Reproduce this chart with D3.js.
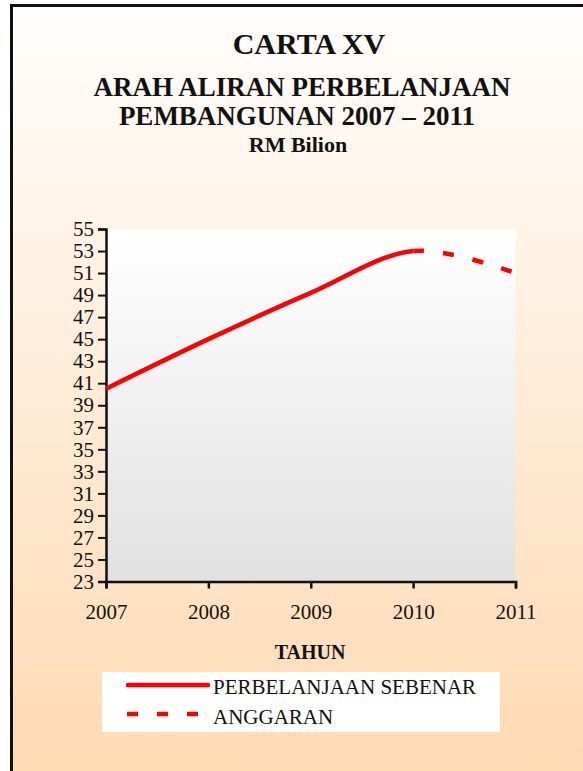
<!doctype html>
<html lang='en'>
<head>
  <meta charset='utf-8'>
  <title>Carta XV</title>
  <style>
    html, body {
      margin: 0;
      padding: 0;
      background: #fff;
    }
    svg text {
      font-family: 'Liberation Serif', 'Times New Roman', serif;
      fill: #111;
    }
  </style>
</head>
<body>
  <script src='https://d3js.org/d3.v7.min.js'></script>
  <script>
    // data
    const years = [2007, 2008, 2009, 2010, 2011]
    const actualYears = [2007, 2008, 2009, 2010]
    const actualValues = [40.5, 45.0, 49.2, 53.0]
    const budgetYears = [2010, 2011]
    const budgetValues = [53.0, 51.0]
    const yTicks = [23, 25, 27, 29, 31, 33, 35, 37, 39, 41, 43, 45, 47, 49, 51, 53, 55]
    const titleLines = ['CARTA XV', 'ARAH ALIRAN PERBELANJAAN', 'PEMBANGUNAN 2007 \u2013 2011', 'RM Bilion']
    const legendLabels = ['PERBELANJAAN SEBENAR', 'ANGGARAN']

    const width = 583
    const height = 771

    const svg = d3.select('body').append('svg')
      .attr('width', width)
      .attr('height', height)

    const defs = svg.append('defs')

    const bgGrad = defs.append('linearGradient')
      .attr('id', 'bg')
      .attr('x1', 0).attr('y1', 0).attr('x2', 0).attr('y2', 1)
    bgGrad.append('stop').attr('offset', '0%').attr('stop-color', '#fffefd')
    bgGrad.append('stop').attr('offset', '100%').attr('stop-color', '#ffd3a5')

    const plotGrad = defs.append('linearGradient')
      .attr('id', 'plotbg')
      .attr('x1', 0).attr('y1', 0).attr('x2', 0).attr('y2', 1)
    plotGrad.append('stop').attr('offset', '0%').attr('stop-color', '#ffffff')
    plotGrad.append('stop').attr('offset', '100%').attr('stop-color', '#e1e1e1')

    // frame (runs off the right and bottom edge)
    svg.append('rect')
      .attr('x', 11.5)
      .attr('y', 5.5)
      .attr('width', 700)
      .attr('height', 900)
      .attr('fill', 'url(#bg)')
      .attr('stroke', '#111')
      .attr('stroke-width', 3)

    // titles
    const titleY = [54, 96, 125, 152]
    const titleX = [309, 302, 297, 298]
    const titleSize = [30, 27, 27, 22]
    svg.append('g')
      .selectAll('text')
      .data(titleLines)
      .join('text')
      .attr('x', (d, i) => titleX[i])
      .attr('y', (d, i) => titleY[i])
      .attr('text-anchor', 'middle')
      .style('font-weight', 'bold')
      .style('font-size', (d, i) => titleSize[i] + 'px')
      .text(d => d)

    const x = d3.scaleLinear()
      .domain([2007, 2011])
      .range([106, 515.5])

    const y = d3.scaleLinear()
      .domain([23, 55])
      .range([581.5, 229])

    svg.append('rect')
      .attr('x', x(2007))
      .attr('y', y(55))
      .attr('width', x(2011) - x(2007))
      .attr('height', y(23) - y(55))
      .attr('fill', 'url(#plotbg)')

    const yAxis = svg.append('g')
      .attr('transform', `translate(${x(2007)},0)`)
      .call(d3.axisLeft(y).tickValues(yTicks).tickSize(8).tickPadding(4))
    yAxis.select('.domain').attr('stroke', '#111').attr('stroke-width', 2.5)
    yAxis.selectAll('.tick line').attr('stroke', '#111').attr('stroke-width', 2)
    yAxis.selectAll('.tick text')
      .style('font-family', "'Liberation Serif', serif")
      .style('font-size', '21px')
      .attr('fill', '#111')

    const xAxis = svg.append('g')
      .attr('transform', `translate(0,${y(23)})`)
      .call(d3.axisBottom(x).tickValues(years).tickFormat(d3.format('d')).tickSize(7).tickPadding(16))
    xAxis.select('.domain').attr('stroke', '#111').attr('stroke-width', 2.5)
    xAxis.selectAll('.tick line').attr('stroke', '#111').attr('stroke-width', 2.5)
    xAxis.selectAll('.tick text')
      .style('font-family', "'Liberation Serif', serif")
      .style('font-size', '21px')
      .attr('fill', '#111')

    svg.append('text')
      .attr('x', 310)
      .attr('y', 659)
      .attr('text-anchor', 'middle')
      .style('font-weight', 'bold')
      .style('font-size', '20px')
      .text('TAHUN')

    // one smoothed curve through actual + budget, solid up to 2010 and dashed after
    const series = actualYears.map((d, i) => ({ year: d, value: actualValues[i] }))
    budgetYears.forEach((d, i) => {
      if (d > actualYears[actualYears.length - 1]) series.push({ year: d, value: budgetValues[i] })
    })

    const line = d3.line()
      .x(d => x(d.year))
      .y(d => y(d.value))
      .curve(d3.curveCardinal.tension(0))

    const splitX = x(budgetYears[0])

    defs.append('clipPath').attr('id', 'clipSolid')
      .append('rect')
      .attr('x', 0).attr('y', 0)
      .attr('width', splitX).attr('height', height)

    defs.append('clipPath').attr('id', 'clipDash')
      .append('rect')
      .attr('x', splitX).attr('y', 0)
      .attr('width', width - splitX).attr('height', height)

    svg.append('path')
      .datum(series)
      .attr('fill', 'none')
      .attr('stroke', '#ff0000')
      .attr('stroke-width', 4.5)
      .attr('clip-path', 'url(#clipSolid)')
      .attr('d', line)

    const dashPath = svg.append('path')
      .datum(series)
      .attr('fill', 'none')
      .attr('stroke', '#ff0000')
      .attr('stroke-width', 4.5)
      .attr('clip-path', 'url(#clipDash)')
      .attr('d', line)

    // find curve length at the split so the dash pattern starts there
    const node = dashPath.node()
    const total = node.getTotalLength()
    let lo = 0
    let hi = total
    for (let k = 0; k < 40; k++) {
      const mid = (lo + hi) / 2
      if (node.getPointAtLength(mid).x < splitX) lo = mid
      else hi = mid
    }
    dashPath
      .attr('stroke-dasharray', '11 19')
      .attr('stroke-dashoffset', -lo)

    // legend
    const legend = svg.append('g')
    legend.append('rect')
      .attr('x', 102)
      .attr('y', 672)
      .attr('width', 398)
      .attr('height', 60)
      .attr('fill', '#fff')

    legend.append('line')
      .attr('x1', 128).attr('x2', 208)
      .attr('y1', 685).attr('y2', 685)
      .attr('stroke', '#ff0000')
      .attr('stroke-width', 4.5)
      .attr('stroke-linecap', 'round')

    legend.append('line')
      .attr('x1', 127).attr('x2', 208)
      .attr('y1', 714).attr('y2', 714)
      .attr('stroke', '#ff0000')
      .attr('stroke-width', 4.5)
      .attr('stroke-dasharray', '11 19')

    legend.selectAll('text.lbl')
      .data(legendLabels)
      .join('text')
      .attr('class', 'lbl')
      .attr('x', 213)
      .attr('y', (d, i) => 694 + i * 30)
      .style('font-size', '21px')
      .text(d => d)
  </script>
</body>
</html>
